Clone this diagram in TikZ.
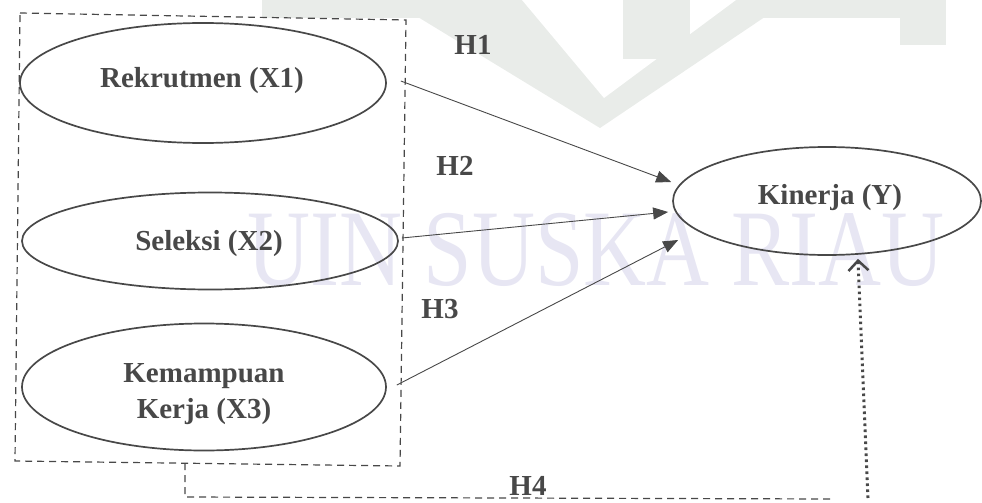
\documentclass[tikz,border=0pt]{standalone}
\usepackage{fontspec}
\setmainfont{Liberation Serif}
\usetikzlibrary{arrows.meta,shapes.geometric}
\definecolor{ink}{RGB}{72,72,72}
\definecolor{wmgray}{RGB}{233,236,233}
\definecolor{wmlav}{RGB}{231,230,243}
\tikzset{
  ell/.style={draw=ink, line width=1.7pt, ellipse, inner sep=0pt},
  lbl/.style={text=ink, font=\fontsize{29}{36}\selectfont\bfseries, inner sep=0pt, anchor=base, align=center},
  arr/.style={draw=ink, line width=0.9pt, -{Triangle[length=15pt,width=12pt]}},
  dbox/.style={draw=ink, line width=1.2pt, dash pattern=on 7pt off 5pt},
  dotarr/.style={draw=ink, line width=3pt, dash pattern=on 2.6pt off 3.4pt, -{Straight Barb[length=10pt,width=20pt,line width=2.5pt]}},
  wmtext/.style={text=wmlav, font=\fontsize{109}{120}\selectfont, inner sep=0pt, anchor=base west, xscale=0.8, text height=72pt, text depth=0pt}
}
\begin{document}
\begin{tikzpicture}[x=1pt,y=-1pt]
\useasboundingbox (0,0) rectangle (982,503);
% watermark logo
\fill[wmgray] (262,0) rectangle (946,18);
\fill[wmgray] (900,0) rectangle (946,45);
\fill[wmgray] (390,0) -- (600,128) -- (790,0) -- cycle;
\fill[white] (522,0) -- (604,98) -- (736,0) -- cycle;
\fill[wmgray] (623,0) rectangle (690,59);
\node[wmtext] (wm) at (247,285) {UIN SUSKA RIAU};
% dashed grouping box
\coordinate (b1) at (20,13);
\coordinate (b2) at (406,20);
\coordinate (b3) at (400,466);
\coordinate (b4) at (15,461);
\draw[dbox] (b1) -- (b2) -- (b3) -- (b4) -- cycle;
% ellipses
\node[ell, minimum width=366pt, minimum height=120pt] (x1) at (203,83) {};
\node[ell, minimum width=376pt, minimum height=97pt] (x2) at (210,241) {};
\node[ell, minimum width=364pt, minimum height=127pt] (x3) at (204,387) {};
\node[ell, minimum width=308pt, minimum height=108pt] (y) at (827,201) {};
% labels
\node[lbl] (tx1) at (202,87) {Rekrutmen (X1)};
\node[lbl] (tx2) at (209,250) {Seleksi (X2)};
\node[lbl] (tx3a) at (204,382) {Kemampuan};
\node[lbl] (tx3b) at (204,418) {Kerja (X3)};
\node[lbl] (ty) at (830,204) {Kinerja (Y)};
\node[lbl] (h1) at (473,55) {H1};
\node[lbl] (h2) at (455,175) {H2};
\node[lbl] (h3) at (440,318) {H3};
\node[lbl] (h4) at (528,495) {H4};
% arrows
\draw[arr] ([xshift=14pt,yshift=2pt]x1.east) -- ([xshift=-1pt,yshift=19pt]y.west);
\draw[arr] ([xshift=3pt,yshift=3pt]x2.east) -- ([xshift=-4pt,yshift=-11pt]y.west);
\draw[arr] ([xshift=10pt,yshift=2pt]x3.east) -- ([xshift=6pt,yshift=-39pt]y.west);
% H4 link
\coordinate (c1) at (185,463);
\coordinate (c2) at (185,497);
\coordinate (c3) at (830,499);
\draw[dbox] (c1) -- (c2) -- (c3);
\coordinate (d0) at (868,498);
\draw[dotarr] (d0) -- ([xshift=31pt,yshift=-3pt]y.south);
\end{tikzpicture}
\end{document}
